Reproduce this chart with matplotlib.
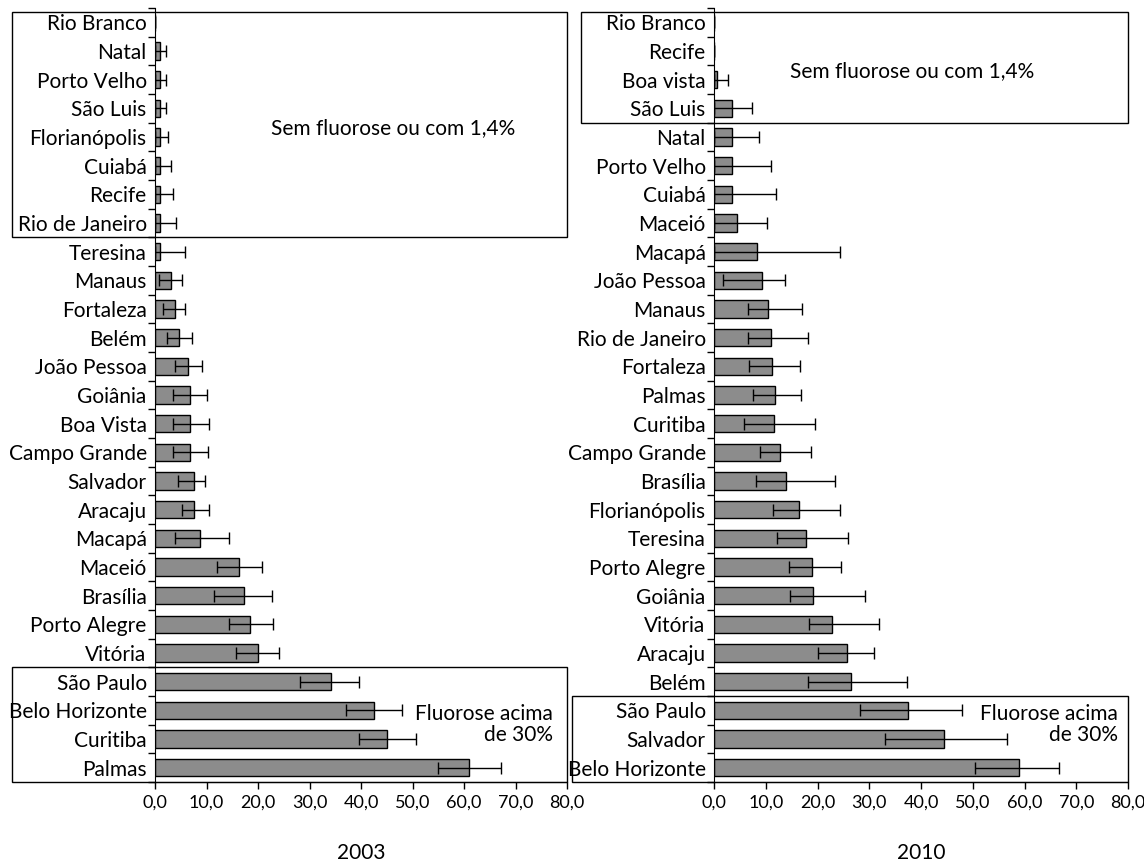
import numpy as np
import matplotlib.pyplot as plt
from matplotlib.patches import Rectangle

plt.rcParams['font.family'] = ['Lato', 'DejaVu Sans']

# 2003
cities_03 = ["Rio Branco", "Natal", "Porto Velho", "São Luis", "Florianópolis", "Cuiabá",
             "Recife", "Rio de Janeiro", "Teresina", "Manaus", "Fortaleza", "Belém",
             "João Pessoa", "Goiânia", "Boa Vista", "Campo Grande", "Salvador", "Aracaju",
             "Macapá", "Maceió", "Brasília", "Porto Alegre", "Vitória", "São Paulo",
             "Belo Horizonte", "Curitiba", "Palmas"]
val_03 = [0.0, 1.0, 1.0, 1.0, 1.0, 1.0, 1.0, 1.0, 1.0, 3.2, 3.8, 4.7, 6.4, 6.8, 6.8, 6.8,
          7.6, 7.6, 8.8, 16.3, 17.2, 18.4, 20.0, 34.1, 42.5, 45.0, 61.0]
low_03 = [0.0, 0.0, 0.0, 0.0, 0.0, 0.0, 0.0, 0.0, 0.0, 0.7, 1.5, 2.3, 3.8, 3.4, 3.4, 3.4,
          4.5, 5.2, 3.8, 12.1, 11.4, 14.3, 15.7, 28.2, 37.0, 39.7, 55.0]
up_03 = [0.0, 2.2, 2.1, 2.1, 2.6, 3.2, 3.5, 4.0, 5.8, 5.2, 5.8, 7.1, 9.2, 10.1, 10.5, 10.3,
         9.7, 10.4, 14.3, 20.7, 22.7, 22.9, 24.1, 39.7, 47.9, 50.6, 67.2]

# 2010
cities_10 = ["Rio Branco", "Recife", "Boa vista", "São Luis", "Natal", "Porto Velho", "Cuiabá",
             "Maceió", "Macapá", "João Pessoa", "Manaus", "Rio de Janeiro", "Fortaleza",
             "Palmas", "Curitiba", "Campo Grande", "Brasília", "Florianópolis", "Teresina",
             "Porto Alegre", "Goiânia", "Vitória", "Aracaju", "Belém", "São Paulo",
             "Salvador", "Belo Horizonte"]
val_10 = [0.0, 0.0, 0.6, 3.4, 3.4, 3.4, 3.4, 4.5, 8.4, 9.3, 10.4, 11.1, 11.2, 11.7, 11.5,
          12.7, 14.0, 16.4, 17.7, 18.9, 19.1, 22.8, 25.7, 26.5, 37.5, 44.5, 58.9]
low_10 = [0.0, 0.0, 0.0, 0.0, 0.0, 0.0, 0.0, 0.0, 0.0, 1.7, 6.6, 6.6, 6.7, 7.6, 5.8,
          8.8, 8.1, 11.4, 12.2, 14.4, 14.6, 18.4, 20.1, 18.2, 28.2, 33.1, 50.4]
up_10 = [0.0, 0.0, 2.8, 7.3, 8.6, 11.1, 11.9, 10.2, 24.4, 13.8, 17.1, 18.1, 16.7, 16.9, 19.6,
         18.7, 23.3, 24.3, 25.9, 24.5, 29.2, 31.9, 30.9, 37.3, 48.0, 56.7, 66.7]

xticks = [0, 10, 20, 30, 40, 50, 60, 70, 80]
FS = 15

fig = plt.figure(figsize=(11.44, 8.63), dpi=100)
ax1 = fig.add_axes([155 / 1144, 1 - 782 / 863, 412 / 1144, 774 / 863])
ax2 = fig.add_axes([714 / 1144, 1 - 782 / 863, 414 / 1144, 774 / 863])


def draw(ax, cities, vals, low, up):
    y = np.arange(len(cities))
    vals = np.array(vals)
    err = [vals - np.array(low), np.array(up) - vals]
    ax.barh(y, vals, height=0.6, color="#8c8c8c", edgecolor="black", linewidth=1.0, zorder=2)
    ax.errorbar(vals, y, xerr=err, fmt="none", ecolor="black", elinewidth=1.0,
                capsize=4, capthick=1.0, zorder=3)
    ax.set_ylim(len(cities) - 0.5, -0.5)
    ax.set_xlim(0, 80)
    ax.set_yticks(y)
    ax.set_yticklabels(cities, fontsize=FS)
    ax.set_yticks(np.arange(len(cities) + 1) - 0.5, minor=True)
    ax.tick_params(axis="y", which="major", length=0, pad=6)
    ax.tick_params(axis="y", which="minor", length=5, width=1, direction="out")
    ax.set_xticks(xticks)
    ax.set_xticklabels([f"{t},0" for t in xticks], fontsize=13)
    ax.tick_params(axis="x", length=5, width=1, direction="out", pad=4)
    for s in ["top", "right"]:
        ax.spines[s].set_visible(False)


draw(ax1, cities_03, val_03, low_03, up_03)
draw(ax2, cities_10, val_10, low_10, up_10)

fig.text(361 / 1144, 1 - 853 / 863, "2003", ha="center", va="center", fontsize=FS)
fig.text(921 / 1144, 1 - 853 / 863, "2010", ha="center", va="center", fontsize=FS)

# group boxes
ax1.add_patch(Rectangle((-27.8, -0.35), 107.8, 7.85, fill=False, edgecolor="black",
                        linewidth=1.0, clip_on=False, zorder=4))
ax1.add_patch(Rectangle((-27.8, 22.5), 107.8, 4.0, fill=False, edgecolor="black",
                        linewidth=1.0, clip_on=False, zorder=4))
ax2.add_patch(Rectangle((-25.7, -0.35), 105.7, 3.85, fill=False, edgecolor="black",
                        linewidth=1.0, clip_on=False, zorder=4))
ax2.add_patch(Rectangle((-27.4, 23.5), 107.4, 3.0, fill=False, edgecolor="black",
                        linewidth=1.0, clip_on=False, zorder=4))

ax1.text(46.2, 3.7, "Sem fluorose ou com 1,4%", ha="center", va="center", fontsize=FS)
ax2.text(38.2, 1.7, "Sem fluorose ou com 1,4%", ha="center", va="center", fontsize=FS)
ax1.text(77.3, 24.5, "Fluorose acima\nde 30%", ha="right", va="center", fontsize=FS,
         linespacing=1.1)
ax2.text(78.0, 24.5, "Fluorose acima\nde 30%", ha="right", va="center", fontsize=FS,
         linespacing=1.1)

fig.savefig("out.png", dpi=100)
